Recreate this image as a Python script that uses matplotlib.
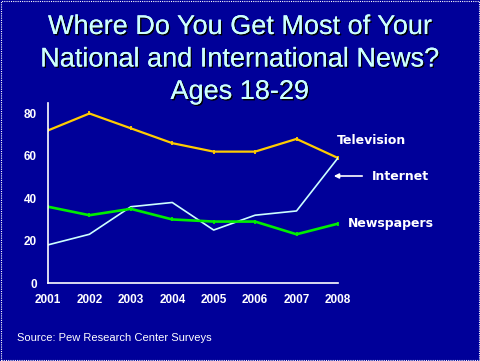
import matplotlib
matplotlib.use("Agg")
import matplotlib.pyplot as plt
import matplotlib.patheffects as pe
from matplotlib.patches import Rectangle

years = [2001, 2002, 2003, 2004, 2005, 2006, 2007, 2008]
television = [72, 80, 73, 66, 62, 62, 68, 59]
internet = [18, 23, 36, 38, 25, 32, 34, 59]
newspapers = [36, 32, 35, 30, 29, 29, 23, 28]
yticks = [0, 20, 40, 60, 80]

bg = "#000099"
fig = plt.figure(figsize=(4.8, 3.61), dpi=100, facecolor=bg)
ax = fig.add_axes([0.1, 0.216, 0.604, 0.499], facecolor=bg)

ax.plot(years, television, color="#FFCC00", lw=1.6, marker="|", ms=3.5, mew=1.3)
ax.plot(years, internet, color="#CCFFFF", lw=1.2)
ax.plot(years, newspapers, color="#00EE00", lw=1.9, marker="|", ms=3.5, mew=1.3)

ax.set_xlim(2001, 2008)
ax.set_ylim(0, 85)
ax.set_yticks(yticks)
ax.set_xticks(years)
for s in ["top", "right"]:
    ax.spines[s].set_visible(False)
for s in ["left", "bottom"]:
    ax.spines[s].set_color("white")
    ax.spines[s].set_linewidth(1.2)
ax.tick_params(length=0, colors="white", labelsize=8.5, pad=8)
for lab in ax.get_xticklabels() + ax.get_yticklabels():
    lab.set_fontweight("bold")
    lab.set_family("Liberation Sans")
    lab.set_color("white")

lab_kw = dict(color="white", fontsize=9, fontweight="bold", family="DejaVu Sans", va="center")
fig.text(337 / 480, 1 - 140 / 361, "Television", **lab_kw)
fig.text(372 / 480, 1 - 176 / 361, "Internet", **lab_kw)
fig.text(348 / 480, 1 - 224 / 361, "Newspapers", **lab_kw)
ax.annotate("", xy=(331, 361 - 176), xycoords="figure pixels", xytext=(365, 361 - 176),
            textcoords="figure pixels", annotation_clip=False,
            arrowprops=dict(arrowstyle="-|>", color="white", lw=1.2, mutation_scale=7))

title_lines = ["Where Do You Get Most of Your", "National and International News?", "Ages 18-29"]
for i, t in enumerate(title_lines):
    fig.text(0.5, 1 - (27 + 32.5 * i) / 361, t, ha="center", va="center", color="#CCFFFF",
             fontsize=19.5, family="Liberation Sans",
             path_effects=[pe.withSimplePatchShadow(offset=(1, -1), shadow_rgbFace="black", alpha=1),
                           pe.Normal()])

fig.text(17 / 480, 1 - 338 / 361, "Source: Pew Research Center Surveys", color="white",
         fontsize=8, family="Liberation Sans", va="center")

fig.patches.append(Rectangle((0.002, 0.003), 0.995, 0.994, transform=fig.transFigure,
                             fill=False, edgecolor="white", lw=0.8, linestyle=(0, (1, 1))))

fig.savefig("out.png", dpi=100, facecolor=bg)
